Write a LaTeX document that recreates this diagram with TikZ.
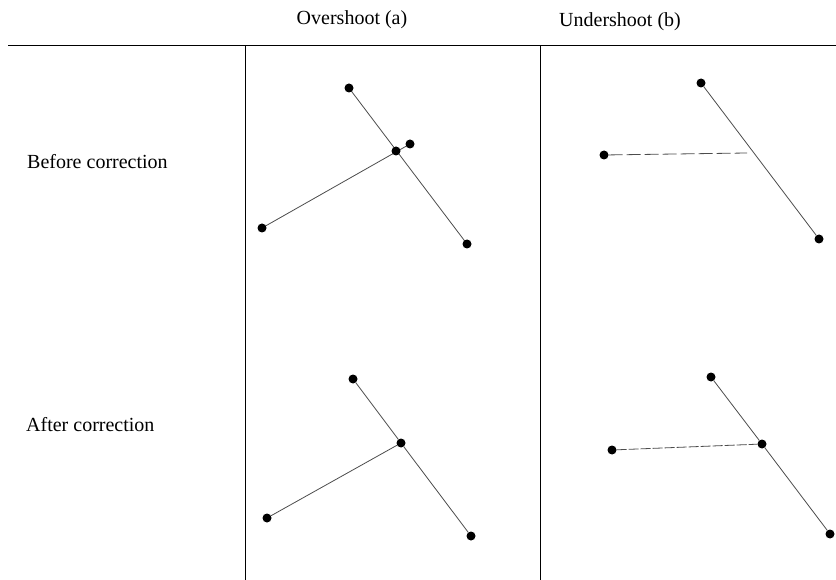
\documentclass[tikz,border=0pt]{standalone}
\usepackage{fontspec}
\setmainfont{Liberation Serif}
\usetikzlibrary{positioning,backgrounds}
\begin{document}
\begin{tikzpicture}[x=1pt,y=-1pt,
    dot/.style={circle,fill=black,inner sep=0pt,minimum size=9pt},
    seg/.style={draw=black!70,line width=0.8pt},
    dseg/.style={seg,dash pattern=on 14pt off 4pt},
    lbl/.style={font=\fontsize{20}{24}\selectfont,inner sep=0pt}]
        \useasboundingbox (0,0) rectangle (836,580);
        % table rules
        \coordinate (hl) at (8,46);
        \coordinate (hr) at (836,46);
        \draw[line width=1pt] (hl) -- (hr);
        \draw[line width=0.8pt] (245,46) -- (245,580);
        \draw[line width=0.8pt] (540,46) -- (540,580);
        % headings
        \node[lbl] (hA) at (352,20) {Overshoot (a)};
        \node[lbl] (hB) at (620,22) {Undershoot (b)};
        \node[lbl,anchor=west] (rB) at (27,162) {Before correction};
        \node[lbl,anchor=west] (rA) at (26,425) {After correction};
        % overshoot, before
        \node[dot] (oa1) at (349,88) {};
        \node[dot] (oa2) at (467,244) {};
        \node[dot] (oa3) at (262,228) {};
        \node[dot] (oa4) at (410,144) {};
        \node[dot] (oa5) at (396,151) {};
        % undershoot, before
        \node[dot] (ub1) at (701,83) {};
        \node[dot] (ub2) at (819,239) {};
        \node[dot] (ub3) at (604,155) {};
        \coordinate (ub4) at (747,153);
        % overshoot, after
        \node[dot] (oc1) at (353,379) {};
        \node[dot] (oc2) at (471,536) {};
        \node[dot] (oc3) at (267,518) {};
        \node[dot] (oc4) at (401,443) {};
        % undershoot, after
        \node[dot] (uc1) at (711,377) {};
        \node[dot] (uc2) at (830,534) {};
        \node[dot] (uc3) at (612,450) {};
        \node[dot] (uc4) at (762,444) {};
        % segments behind the dots
        \begin{scope}[on background layer]
          \draw[seg] (oa1.center) -- (oa2.center);
          \draw[seg] (oa3.center) -- (oa4.center);
          \draw[seg] (ub1) -- (ub2);
          \draw[dseg] (ub3) -- (ub4);
          \draw[seg] (oc1) -- (oc4) -- (oc2);
          \draw[seg] (oc3) -- (oc4);
          \draw[seg] (uc1) -- (uc4) -- (uc2);
          \draw[dseg,dash pattern=on 10pt off 2pt] (uc3) -- (uc4);
        \end{scope}
      \end{tikzpicture}
\end{document}
